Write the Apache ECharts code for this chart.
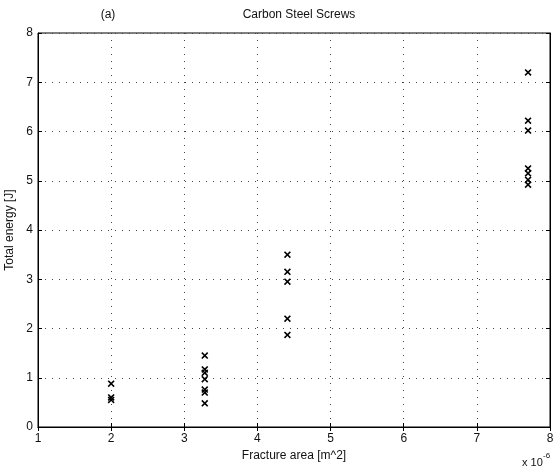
<!DOCTYPE html>
<html>
<head>
<meta charset="utf-8">
<script src="https://cdn.jsdelivr.net/npm/echarts@6/dist/echarts.min.js"></script>
<style>
  html, body { margin: 0; padding: 0; background: #fff; }
  #chart { width: 553px; height: 475px; }
</style>
</head>
<body>
<div id="chart"></div>
<script>
// Fracture area (units of 1e-6 m^2) for each test group
const fractureArea = [2.0, 3.28, 4.41, 7.7];
// Total energy (J) measured for each specimen in each group
const energyGroup1 = [0.88, 0.6, 0.55];
const energyGroup2 = [1.45, 1.17, 1.1, 0.97, 0.76, 0.7, 0.48];
const energyGroup3 = [3.5, 3.15, 2.95, 2.2, 1.87];
const energyGroup4 = [7.2, 6.22, 6.02, 5.25, 5.15, 5.02, 4.92];
const energyGroups = [energyGroup1, energyGroup2, energyGroup3, energyGroup4];

const xTicks = [1, 2, 3, 4, 5, 6, 7, 8];
const yTicks = [0, 1, 2, 3, 4, 5, 6, 7, 8];

const points = [];
energyGroups.forEach((g, i) => g.forEach(v => points.push([fractureArea[i], v])));

const font = 'Liberation Sans, Arial, sans-serif';
const crossPath = 'path://M0,1.6L1.6,0L5,3.4L8.4,0L10,1.6L6.6,5L10,8.4L8.4,10L5,6.6L1.6,10L0,8.4L3.4,5Z';
const gridDots = { show: true, lineStyle: { color: '#444', width: 1, type: [1, 6] } };

const chart = echarts.init(document.getElementById('chart'), null, { renderer: 'canvas' });
chart.setOption({
  animation: false,
  backgroundColor: '#fff',
  textStyle: { fontFamily: font },
  title: [
    { text: 'Carbon Steel Screws', left: 294, top: 4, textAlign: 'center',
      textStyle: { fontSize: 12, fontWeight: 'normal', color: '#111', fontFamily: font } },
    { text: '(a)', left: 103, top: 4, textAlign: 'center',
      textStyle: { fontSize: 12, fontWeight: 'normal', color: '#111', fontFamily: font } }
  ],
  graphic: [
    { type: 'text', left: 522, top: 457,
      style: { text: 'x 10', fill: '#111', font: '11px ' + font } },
    { type: 'text', left: 543, top: 452,
      style: { text: '-6', fill: '#111', font: '8px ' + font } }
  ],
  grid: { left: 38, right: 3, top: 33, bottom: 48, outerBoundsMode: 'none', containLabel: false,
    show: true, borderColor: '#000', borderWidth: 1 },
  xAxis: [{
    type: 'value', min: xTicks[0], max: xTicks[xTicks.length - 1], interval: 1,
    name: 'Fracture area [m^2]', nameLocation: 'middle', nameGap: 21,
    nameTextStyle: { fontSize: 12, color: '#111', fontFamily: font },
    axisLine: { show: true, lineStyle: { color: '#000' } },
    axisTick: { show: true, inside: true, length: 4, lineStyle: { color: '#000' } },
    axisLabel: { fontSize: 12, color: '#111', margin: 6, fontFamily: font },
    splitLine: gridDots
  }, {
    type: 'value', position: 'top', min: xTicks[0], max: xTicks[xTicks.length - 1], interval: 1,
    axisLine: { show: true, lineStyle: { color: '#000' } },
    axisTick: { show: true, inside: true, length: 4, lineStyle: { color: '#000' } },
    axisLabel: { show: false }, splitLine: { show: false }
  }],
  yAxis: [{
    type: 'value', min: yTicks[0], max: yTicks[yTicks.length - 1], interval: 1,
    name: 'Total energy [J]', nameLocation: 'middle', nameGap: 13,
    nameTextStyle: { fontSize: 12, color: '#111', fontFamily: font },
    axisLine: { show: true, lineStyle: { color: '#000' } },
    axisTick: { show: true, inside: true, length: 4, lineStyle: { color: '#000' } },
    axisLabel: { fontSize: 12, color: '#111', margin: 5, fontFamily: font },
    splitLine: gridDots
  }, {
    type: 'value', position: 'right', min: yTicks[0], max: yTicks[yTicks.length - 1], interval: 1,
    axisLine: { show: true, lineStyle: { color: '#000' } },
    axisTick: { show: true, inside: true, length: 4, lineStyle: { color: '#000' } },
    axisLabel: { show: false }, splitLine: { show: false }
  }],
  series: [{
    type: 'scatter',
    data: points,
    symbol: crossPath,
    symbolSize: 7,
    itemStyle: { color: '#000', opacity: 1 }
  }]
});
</script>
</body>
</html>
